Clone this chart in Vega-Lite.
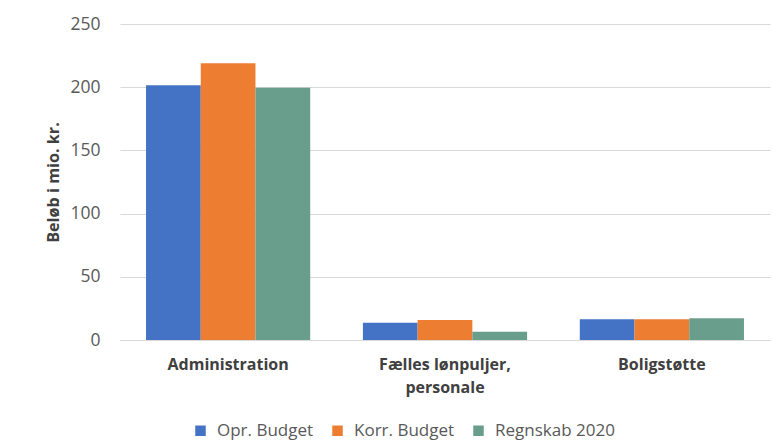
{
  "$schema": "https://vega.github.io/schema/vega-lite/v6.json",
  "autosize": {"type": "none"},
  "width": 650,
  "height": 316,
  "padding": {"left": 120, "top": 24, "right": 4, "bottom": 104},
  "background": "white",
  "data": {
    "values": [
      {"kategori": "Administration", "serie": "Opr. Budget", "beloeb": 201.5},
      {"kategori": "Administration", "serie": "Korr. Budget", "beloeb": 219},
      {"kategori": "Administration", "serie": "Regnskab 2020", "beloeb": 199.5},
      {"kategori": "Fælles lønpuljer, personale", "serie": "Opr. Budget", "beloeb": 13.7},
      {"kategori": "Fælles lønpuljer, personale", "serie": "Korr. Budget", "beloeb": 15.8},
      {"kategori": "Fælles lønpuljer, personale", "serie": "Regnskab 2020", "beloeb": 6.6},
      {"kategori": "Boligstøtte", "serie": "Opr. Budget", "beloeb": 16.4},
      {"kategori": "Boligstøtte", "serie": "Korr. Budget", "beloeb": 16.4},
      {"kategori": "Boligstøtte", "serie": "Regnskab 2020", "beloeb": 17.2}
    ]
  },
  "mark": {"type": "bar"},
  "encoding": {
    "x": {
      "field": "kategori",
      "type": "nominal",
      "sort": ["Administration", "Fælles lønpuljer, personale", "Boligstøtte"],
      "scale": {"paddingInner": 0.243, "paddingOuter": 0.12},
      "axis": {
        "title": null,
        "labelAngle": 0,
        "labelExpr": "datum.value == 'Fælles lønpuljer, personale' ? ['Fælles lønpuljer,', 'personale'] : datum.value",
        "labelFont": "Open Sans",
        "labelFontSize": 16,
        "labelFontWeight": "bold",
        "labelColor": "#404040",
        "labelPadding": 16,
        "labelLineHeight": 23,
        "ticks": false,
        "domainColor": "#D9D9D9",
        "grid": false
      }
    },
    "xOffset": {
      "field": "serie",
      "type": "nominal",
      "sort": ["Opr. Budget", "Korr. Budget", "Regnskab 2020"],
      "scale": {"paddingInner": 0, "paddingOuter": 0}
    },
    "y": {
      "field": "beloeb",
      "type": "quantitative",
      "scale": {"domain": [0, 250]},
      "axis": {
        "title": "Beløb i mio. kr.",
        "titleFont": "Open Sans",
        "titleFontSize": 16.2,
        "titleFontWeight": "bold",
        "titleColor": "#404040",
        "titlePadding": 8,
        "values": [0, 50, 100, 150, 200, 250],
        "labelFont": "Open Sans",
        "labelFontSize": 17.5,
        "labelColor": "#595959",
        "labelPadding": 20,
        "ticks": false,
        "domain": false,
        "gridColor": "#D9D9D9"
      }
    },
    "color": {
      "field": "serie",
      "type": "nominal",
      "sort": ["Opr. Budget", "Korr. Budget", "Regnskab 2020"],
      "scale": {"range": ["#4472C4", "#ED7D31", "#6A9E8C"]},
      "legend": {
        "title": null,
        "orient": "none",
        "legendX": 72,
        "legendY": 398,
        "direction": "horizontal",
        "symbolType": "square",
        "symbolSize": 110,
        "symbolOffset": 0,
        "labelOffset": 8,
        "labelFont": "Open Sans",
        "labelFontSize": 17,
        "labelColor": "#595959",
        "columnPadding": 15
      }
    }
  },
  "config": {"view": {"stroke": null}}
}
